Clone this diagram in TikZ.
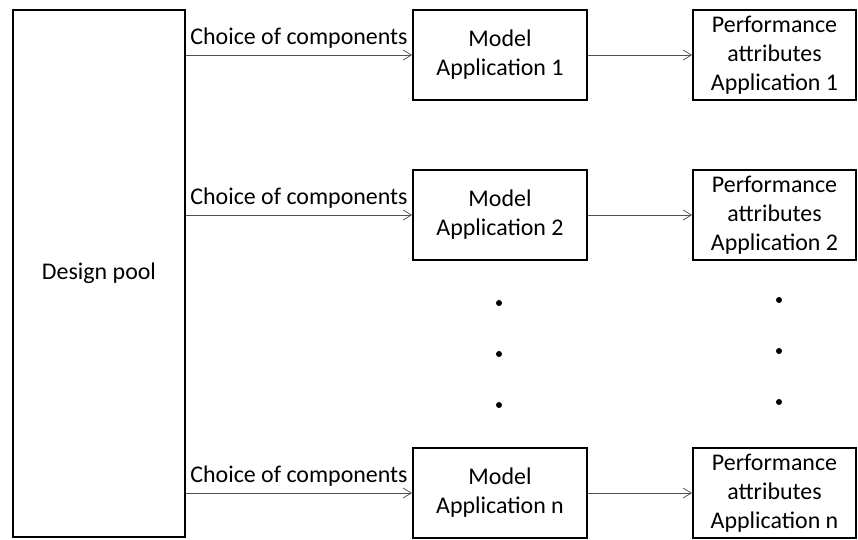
\documentclass[tikz,border=0pt]{standalone}
\usepackage{fontspec}
\setmainfont{Carlito}
\usetikzlibrary{arrows.meta}
\definecolor{linegray}{HTML}{505050}

\begin{document}
\begin{tikzpicture}[
		box/.style={draw, line width=1.9pt, align=center, inner sep=0pt},
		modelbox/.style={box, minimum width=5.8cm, minimum height=3cm},
		perfbox/.style={box, minimum width=5.433cm, minimum height=3cm},
		flow/.style={linegray, line width=0.7pt,
			-{Straight Barb[length=2.7mm,width=3.3mm]}},
		flowlabel/.style={midway, above=0.2cm, inner sep=0pt, black},
		dotmark/.style={circle, fill=black, inner sep=0pt, minimum size=0.2cm}
	]
		\useasboundingbox (0,0) rectangle (28.6,17.967);
		\fontsize{22.7}{27.5}\selectfont
		% design pool
		\node[box,
		minimum width=5.733cm,
		minimum height=17.567cm] (pool) at (3.3,8.85) {Design pool};
		% models
		\node[modelbox] (model1) at (16.667,16.133) {Model\\Application 1};
		\node[modelbox] (model2) at (16.667,10.8) {Model\\Application 2};
		\node[modelbox] (modeln) at (16.667,1.533) {Model\\Application n};
		% performance attributes
		\node[perfbox] (perf1) at (25.817,16.133) {Performance\\attributes\\Application 1};
		\node[perfbox] (perf2) at (25.817,10.8) {Performance\\attributes\\Application 2};
		\node[perfbox] (perfn) at (25.817,1.533) {Performance\\attributes\\Application n};

		% choice of components
		\draw[flow] (model1.west -| pool.east) -- (model1.west)
		node[flowlabel]{Choice of components};
		\draw[flow] (model2.west -| pool.east) -- (model2.west)
		node[flowlabel]{Choice of components};
		\draw[flow] (modeln.west -| pool.east) -- (modeln.west)
		node[flowlabel]{Choice of components};

		% model to attributes
		\draw[flow] (model1) -- (perf1);
		\draw[flow] (model2) -- (perf2);
		\draw[flow] (modeln) -- (perfn);

		% dots
		\node[dotmark] (dotm1) at (16.633,7.867) {};
		\node[dotmark] (dotm2) at (16.633,6.167) {};
		\node[dotmark] (dotm3) at (16.633,4.467) {};
		\node[dotmark] (dotp1) at (25.967,7.967) {};
		\node[dotmark] (dotp2) at (25.967,6.267) {};
		\node[dotmark] (dotp3) at (25.967,4.567) {};
\end{tikzpicture}
\end{document}
